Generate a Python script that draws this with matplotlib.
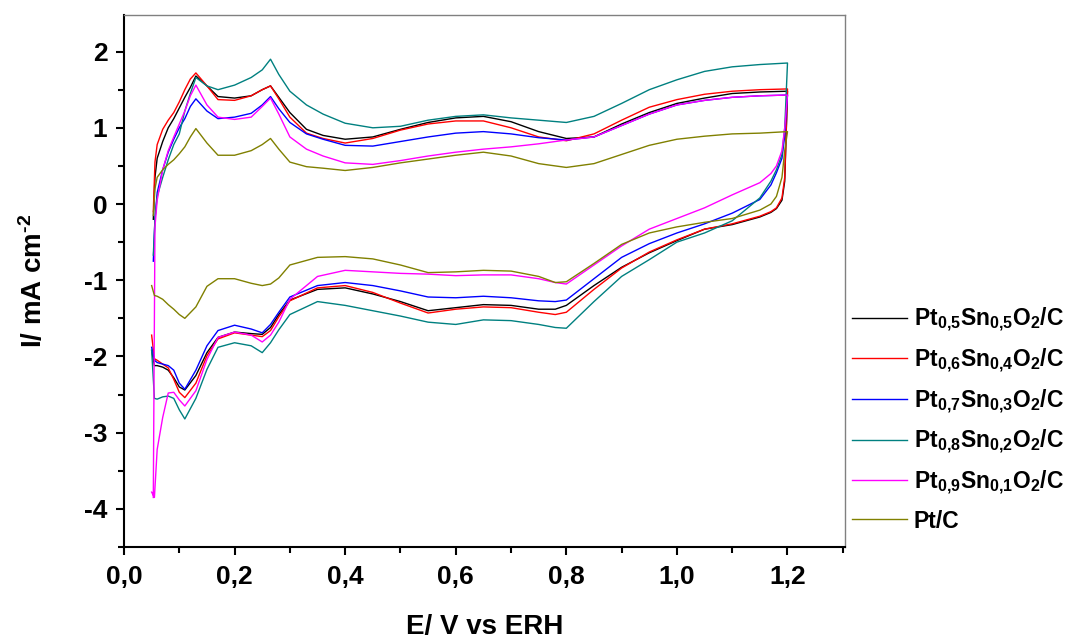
import numpy as np
import matplotlib
matplotlib.use("Agg")
import matplotlib.pyplot as plt


# potential grids (V vs ERH): anodic sweep up, cathodic sweep back down
e_up = [0.053, 0.056, 0.06, 0.07, 0.08, 0.09, 0.10, 0.11, 0.12, 0.13, 0.15,
        0.17, 0.20, 0.23, 0.25, 0.265, 0.28, 0.30, 0.33, 0.36, 0.40, 0.45,
        0.50, 0.55, 0.60, 0.65, 0.70, 0.75, 0.80, 0.85, 0.90, 0.95, 1.00,
        1.05, 1.10, 1.15, 1.20]
e_down = [1.20, 1.195, 1.19, 1.18, 1.17, 1.15, 1.10, 1.05, 1.00, 0.95, 0.90,
          0.85, 0.80, 0.78, 0.75, 0.70, 0.65, 0.60, 0.55, 0.50, 0.45, 0.40,
          0.35, 0.30, 0.28, 0.265, 0.25, 0.23, 0.20, 0.17, 0.15, 0.13, 0.11,
          0.10, 0.09, 0.08, 0.07, 0.06, 0.055, 0.05]

# current density (mA cm-2)
pt55_up = [-0.2, 0.35, 0.60, 0.82, 1.00, 1.12, 1.26, 1.40, 1.53, 1.68, 1.55,
           1.41, 1.39, 1.42, 1.50, 1.55, 1.40, 1.20, 0.98, 0.90, 0.85, 0.88,
           0.98, 1.07, 1.13, 1.15, 1.08, 0.95, 0.86, 0.88, 1.05, 1.20, 1.32,
           1.39, 1.45, 1.47, 1.48]
pt55_down = [1.48, 0.30, 0.05, -0.06, -0.11, -0.17, -0.27, -0.33, -0.48, -0.64,
             -0.83, -1.07, -1.33, -1.38, -1.38, -1.33, -1.32, -1.36, -1.40,
             -1.28, -1.18, -1.10, -1.12, -1.26, -1.45, -1.62, -1.71, -1.70,
             -1.68, -1.75, -1.95, -2.25, -2.44, -2.40, -2.28, -2.18, -2.14,
             -2.12, -2.12, -1.92]

pt64_up = [-0.1, 0.55, 0.78, 0.98, 1.10, 1.20, 1.34, 1.50, 1.64, 1.72, 1.55,
           1.37, 1.36, 1.42, 1.50, 1.55, 1.38, 1.14, 0.93, 0.86, 0.80, 0.86,
           0.97, 1.05, 1.09, 1.09, 1.00, 0.88, 0.83, 0.92, 1.10, 1.27, 1.37,
           1.44, 1.48, 1.50, 1.51]
pt64_down = [1.50, 0.35, 0.08, -0.05, -0.10, -0.16, -0.26, -0.33, -0.47, -0.63,
             -0.84, -1.12, -1.42, -1.45, -1.42, -1.36, -1.35, -1.38, -1.43,
             -1.30, -1.16, -1.07, -1.10, -1.27, -1.48, -1.66, -1.74, -1.72,
             -1.69, -1.77, -1.99, -2.35, -2.54, -2.47, -2.30, -2.15, -2.10,
             -2.05, -2.03, -1.72]

pt73_up = [-0.75, -0.2, 0.15, 0.45, 0.68, 0.85, 1.00, 1.12, 1.28, 1.38, 1.22,
           1.12, 1.14, 1.19, 1.30, 1.41, 1.25, 1.07, 0.92, 0.85, 0.77, 0.76,
           0.82, 0.88, 0.93, 0.95, 0.92, 0.87, 0.84, 0.88, 1.03, 1.18, 1.30,
           1.36, 1.40, 1.42, 1.43]
pt73_down = [1.43, 0.90, 0.60, 0.41, 0.25, 0.06, -0.12, -0.26, -0.38, -0.52,
             -0.70, -0.98, -1.26, -1.28, -1.27, -1.23, -1.21, -1.23, -1.22,
             -1.14, -1.07, -1.03, -1.07, -1.22, -1.42, -1.58, -1.69, -1.64,
             -1.59, -1.66, -1.86, -2.18, -2.43, -2.35, -2.18, -2.12, -2.10,
             -2.08, -2.05, -1.88]

pt82_up = [-0.67, -0.2, 0.10, 0.35, 0.58, 0.78, 0.92, 1.22, 1.45, 1.66, 1.55,
           1.50, 1.56, 1.66, 1.76, 1.90, 1.70, 1.48, 1.30, 1.18, 1.06, 1.00,
           1.02, 1.10, 1.15, 1.17, 1.13, 1.10, 1.07, 1.15, 1.32, 1.50, 1.63,
           1.74, 1.80, 1.83, 1.85]
pt82_down = [1.85, 1.00, 0.65, 0.45, 0.30, 0.08, -0.22, -0.38, -0.50, -0.73,
             -0.95, -1.28, -1.63, -1.62, -1.58, -1.53, -1.52, -1.58, -1.55,
             -1.47, -1.40, -1.33, -1.28, -1.45, -1.65, -1.82, -1.95, -1.86,
             -1.82, -1.88, -2.17, -2.55, -2.82, -2.70, -2.55, -2.52, -2.53,
             -2.56, -2.55, -1.92]

pt91_up = [-3.85, -0.3, 0.05, 0.45, 0.70, 0.88, 1.05, 1.22, 1.42, 1.56, 1.30,
           1.14, 1.11, 1.14, 1.28, 1.39, 1.18, 0.88, 0.72, 0.63, 0.54, 0.52,
           0.57, 0.63, 0.68, 0.72, 0.75, 0.79, 0.84, 0.88, 1.03, 1.18, 1.30,
           1.36, 1.40, 1.42, 1.43]
pt91_down = [1.43, 1.00, 0.70, 0.50, 0.40, 0.28, 0.12, -0.05, -0.19, -0.33,
             -0.55, -0.80, -1.05, -1.03, -0.98, -0.93, -0.93, -0.94, -0.92,
             -0.91, -0.89, -0.87, -0.95, -1.25, -1.55, -1.72, -1.81, -1.72,
             -1.68, -1.75, -2.04, -2.45, -2.65, -2.57, -2.47, -2.48, -2.80,
             -3.22, -3.85, -3.78]

ptc_up = [-0.15, 0.20, 0.35, 0.45, 0.52, 0.58, 0.66, 0.75, 0.88, 0.99, 0.80,
          0.64, 0.64, 0.70, 0.78, 0.86, 0.72, 0.55, 0.49, 0.47, 0.44, 0.48,
          0.54, 0.59, 0.64, 0.68, 0.63, 0.53, 0.48, 0.53, 0.65, 0.77, 0.85,
          0.89, 0.92, 0.93, 0.95]
ptc_down = [0.95, 0.70, 0.35, 0.10, 0.00, -0.08, -0.19, -0.24, -0.30, -0.38,
            -0.53, -0.78, -1.02, -1.03, -0.95, -0.88, -0.87, -0.89, -0.90,
            -0.80, -0.72, -0.69, -0.70, -0.80, -0.97, -1.05, -1.07, -1.04,
            -0.98, -0.98, -1.08, -1.35, -1.50, -1.45, -1.38, -1.32, -1.25,
            -1.21, -1.20, -1.07]

labels = [r"Pt$_{0{,}5}$Sn$_{0{,}5}$O$_2$/C", r"Pt$_{0{,}6}$Sn$_{0{,}4}$O$_2$/C",
          r"Pt$_{0{,}7}$Sn$_{0{,}3}$O$_2$/C", r"Pt$_{0{,}8}$Sn$_{0{,}2}$O$_2$/C",
          r"Pt$_{0{,}9}$Sn$_{0{,}1}$O$_2$/C", "Pt/C"]
colors = ["black", "red", "blue", "#008080", "magenta", "#808000"]
curves = [(pt55_up, pt55_down), (pt64_up, pt64_down), (pt73_up, pt73_down),
          (pt82_up, pt82_down), (pt91_up, pt91_down), (ptc_up, ptc_down)]

xticks = [0.0, 0.2, 0.4, 0.6, 0.8, 1.0, 1.2]
xtick_labels = ["0,0", "0,2", "0,4", "0,6", "0,8", "1,0", "1,2"]
yticks = [-4, -3, -2, -1, 0, 1, 2]
ytick_labels = ["-4", "-3", "-2", "-1", "0", "1", "2"]


plt.rcParams["font.family"] = ["Liberation Sans", "DejaVu Sans"]
plt.rcParams["font.weight"] = "bold"
plt.rcParams["mathtext.fontset"] = "custom"
plt.rcParams["mathtext.rm"] = "Liberation Sans:bold"
plt.rcParams["mathtext.it"] = "Liberation Sans:bold"
plt.rcParams["mathtext.bf"] = "Liberation Sans:bold"
plt.rcParams["mathtext.default"] = "bf"

fig = plt.figure(figsize=(10.72, 6.38), dpi=100)
ax = fig.add_axes([124 / 1072, 1 - 547 / 638, (845 - 124) / 1072, (547 - 15) / 638])

x_cv = np.array(e_up + e_down)
for (up, down), color, label in zip(curves, colors, labels):
    ax.plot(x_cv, up + down, color=color, lw=1.0, label=label)

ax.set_xlim(0, 1.304)
ax.set_ylim(-4.5, 2.48)
ax.set_xticks(xticks)
ax.set_xticklabels(xtick_labels)
ax.set_yticks(yticks)
ax.set_yticklabels(ytick_labels)
ax.set_xticks(np.arange(0.1, 1.31, 0.2), minor=True)
ax.set_yticks(np.arange(-4.5, 2.5, 1.0), minor=True)
ax.tick_params(which="major", direction="out", length=6, width=1.5, labelsize=19)
ax.tick_params(axis="x", which="major", pad=7)
ax.tick_params(axis="y", which="major", pad=6)
ax.tick_params(which="minor", direction="out", length=4, width=1.5)

for side in ["left", "bottom"]:
    ax.spines[side].set_linewidth(1.5)
for side in ["top", "right"]:
    ax.spines[side].set_color("#808080")
    ax.spines[side].set_linewidth(1.0)

ax.set_xlabel("E/ V vs ERH", fontsize=20, fontweight="bold", labelpad=18)
ax.set_ylabel(r"I/ mA cm$^{\text{-}2}$", fontsize=20, fontweight="bold", labelpad=26)

ax.legend(loc="upper left", bbox_to_anchor=(852 / 1072, 1 - 306 / 638),
          bbox_transform=fig.transFigure, frameon=False, fontsize=16.5,
          handlelength=2.4, handletextpad=0.3, labelspacing=0.55,
          borderpad=0, borderaxespad=0)

fig.savefig("out.png", dpi=100)
